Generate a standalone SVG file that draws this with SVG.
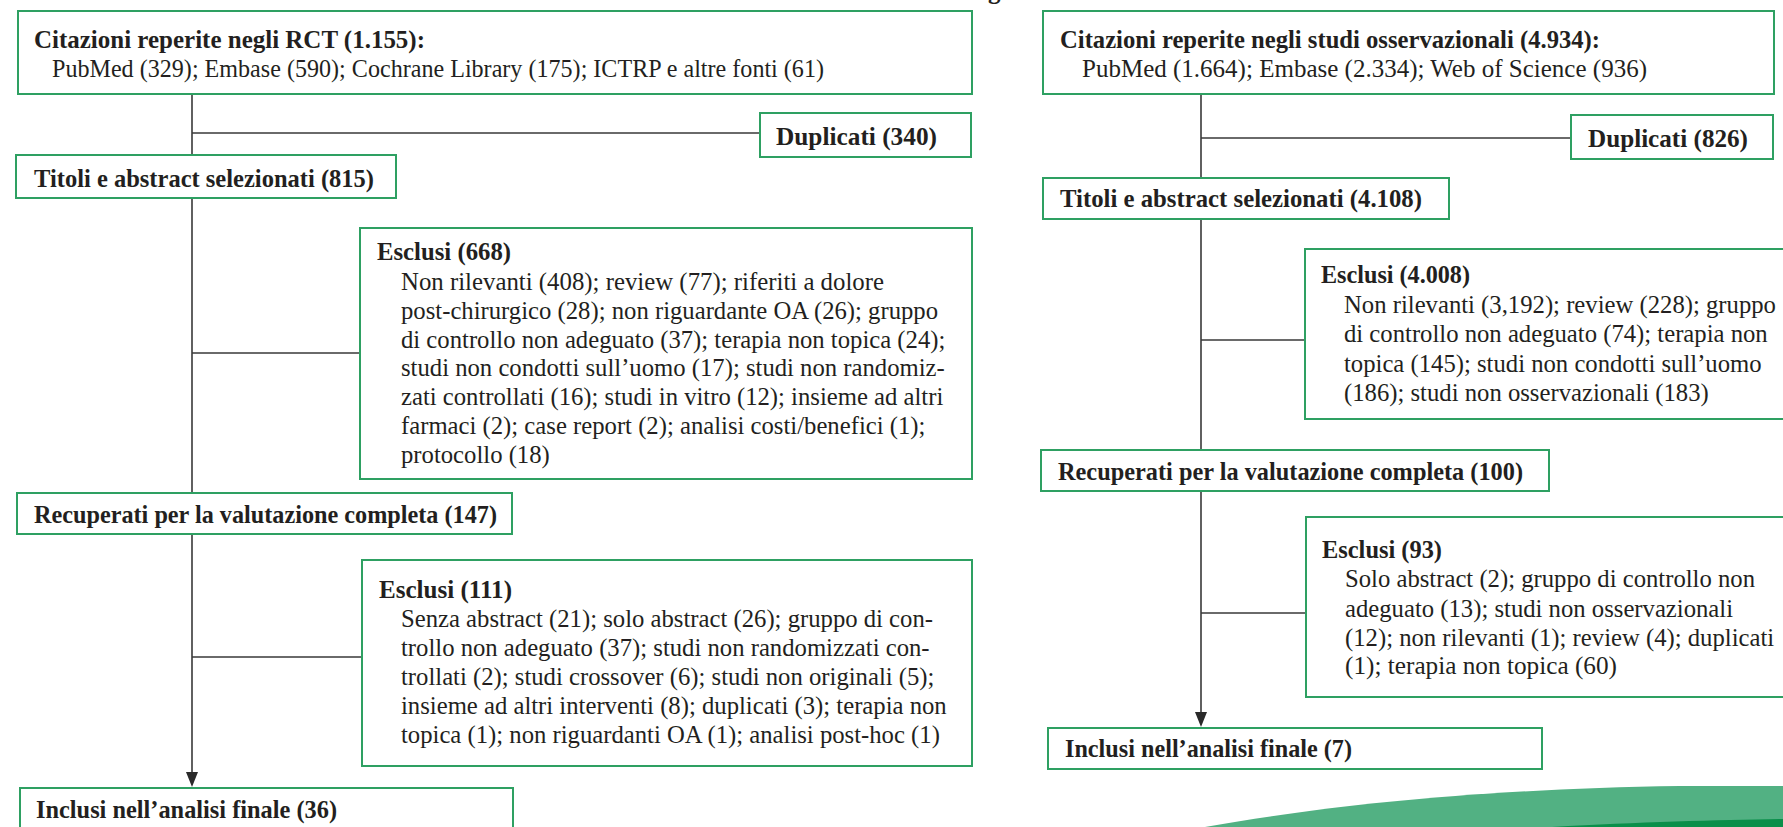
<svg xmlns="http://www.w3.org/2000/svg" width="1783" height="827" viewBox="0 0 1783 827">
<style>
.box{fill:#fff;stroke:#2ea062;stroke-width:2}
.t{font-family:"Liberation Serif","Times New Roman",serif;font-size:24.7px;fill:#231f20}
.b{font-family:"Liberation Serif","Times New Roman",serif;font-size:25px;font-weight:bold;fill:#231f20}
.ln{fill:none;stroke:#3a3a3a;stroke-width:1.6}
.ah{fill:#2a2a2a}
</style>
<rect width="1783" height="827" fill="#fff"/>
<text class="b" x="988" y="-1">g</text>

<g id="connectors">
<path class="ln" d="M192,94 V155 M192,133 H760 M192,198 V493 M192,353 H360 M192,534 V775 M192,657 H362"/>
<path class="ah" d="M186,772 L198,772 L192,787 Z"/>
<path class="ln" d="M1201,94 V178 M1201,138 H1571 M1201,219 V450 M1201,340 H1305 M1201,491 V715 M1201,613 H1306"/>
<path class="ah" d="M1195,712 L1207,712 L1201,727 Z"/>
</g>

<g id="rct-citazioni">
<rect class="box" x="18" y="11" width="954" height="83"/>
<text class="b" x="34" y="48" textLength="391" lengthAdjust="spacingAndGlyphs">Citazioni reperite negli RCT (1.155):</text>
<text class="t" x="52" y="77" textLength="772" lengthAdjust="spacingAndGlyphs">PubMed (329); Embase (590); Cochrane Library (175); ICTRP e altre fonti (61)</text>
</g>
<g id="rct-duplicati">
<rect class="box" x="760" y="113" width="211" height="44"/>
<text class="b" x="776" y="145" textLength="161" lengthAdjust="spacingAndGlyphs">Duplicati (340)</text>
</g>
<g id="rct-titoli">
<rect class="box" x="16" y="155" width="380" height="43"/>
<text class="b" x="34" y="187" textLength="340" lengthAdjust="spacingAndGlyphs">Titoli e abstract selezionati (815)</text>
</g>
<g id="rct-esclusi1">
<rect class="box" x="360" y="228" width="612" height="251"/>
<text class="b" x="377" y="260" textLength="134" lengthAdjust="spacingAndGlyphs">Esclusi (668)</text>
<text class="t" x="401" y="290" textLength="483" lengthAdjust="spacingAndGlyphs">Non rilevanti (408); review (77); riferiti a dolore</text>
<text class="t" x="401" y="318.8">post-chirurgico (28); non riguardante OA (26); gruppo</text>
<text class="t" x="401" y="347.6">di controllo non adeguato (37); terapia non topica (24);</text>
<text class="t" x="401" y="376.4">studi non condotti sull’uomo (17); studi non randomiz-</text>
<text class="t" x="401" y="405.2">zati controllati (16); studi in vitro (12); insieme ad altri</text>
<text class="t" x="401" y="434">farmaci (2); case report (2); analisi costi/benefici (1);</text>
<text class="t" x="401" y="462.8">protocollo (18)</text>
</g>
<g id="rct-recuperati">
<rect class="box" x="17" y="493" width="495" height="41"/>
<text class="b" x="34" y="523" textLength="463" lengthAdjust="spacingAndGlyphs">Recuperati per la valutazione completa (147)</text>
</g>
<g id="rct-esclusi2">
<rect class="box" x="362" y="560" width="610" height="206"/>
<text class="b" x="379" y="598" textLength="133" lengthAdjust="spacingAndGlyphs">Esclusi (111)</text>
<text class="t" x="401" y="627">Senza abstract (21); solo abstract (26); gruppo di con-</text>
<text class="t" x="401" y="656">trollo non adeguato (37); studi non randomizzati con-</text>
<text class="t" x="401" y="685">trollati (2); studi crossover (6); studi non originali (5);</text>
<text class="t" x="401" y="714">insieme ad altri interventi (8); duplicati (3); terapia non</text>
<text class="t" x="401" y="743">topica (1); non riguardanti OA (1); analisi post-hoc (1)</text>
</g>
<g id="rct-inclusi">
<rect class="box" x="20" y="788" width="493" height="60"/>
<text class="b" x="36" y="818" textLength="301" lengthAdjust="spacingAndGlyphs">Inclusi nell’analisi finale (36)</text>
</g>

<g id="obs-citazioni">
<rect class="box" x="1043" y="11" width="731" height="83"/>
<text class="b" x="1060" y="48" textLength="540" lengthAdjust="spacingAndGlyphs">Citazioni reperite negli studi osservazionali (4.934):</text>
<text class="t" x="1082" y="77" textLength="565" lengthAdjust="spacingAndGlyphs">PubMed (1.664); Embase (2.334); Web of Science (936)</text>
</g>
<g id="obs-duplicati">
<rect class="box" x="1571" y="115" width="202" height="44"/>
<text class="b" x="1588" y="147" textLength="160" lengthAdjust="spacingAndGlyphs">Duplicati (826)</text>
</g>
<g id="obs-titoli">
<rect class="box" x="1043" y="178" width="406" height="41"/>
<text class="b" x="1060" y="207" textLength="362" lengthAdjust="spacingAndGlyphs">Titoli e abstract selezionati (4.108)</text>
</g>
<g id="obs-esclusi1">
<rect class="box" x="1305" y="249" width="500" height="170"/>
<text class="b" x="1321" y="283" textLength="149" lengthAdjust="spacingAndGlyphs">Esclusi (4.008)</text>
<text class="t" x="1344" y="312.5">Non rilevanti (3,192); review (228); gruppo</text>
<text class="t" x="1344" y="342">di controllo non adeguato (74); terapia non</text>
<text class="t" x="1344" y="371.5">topica (145); studi non condotti sull’uomo</text>
<text class="t" x="1344" y="401">(186); studi non osservazionali (183)</text>
</g>
<g id="obs-recuperati">
<rect class="box" x="1041" y="450" width="508" height="41"/>
<text class="b" x="1058" y="480" textLength="465" lengthAdjust="spacingAndGlyphs">Recuperati per la valutazione completa (100)</text>
</g>
<g id="obs-esclusi2">
<rect class="box" x="1306" y="517" width="500" height="180"/>
<text class="b" x="1322" y="558" textLength="120" lengthAdjust="spacingAndGlyphs">Esclusi (93)</text>
<text class="t" x="1345" y="587">Solo abstract (2); gruppo di controllo non</text>
<text class="t" x="1345" y="616.5">adeguato (13); studi non osservazionali</text>
<text class="t" x="1345" y="645.5">(12); non rilevanti (1); review (4); duplicati</text>
<text class="t" x="1345" y="674" textLength="272" lengthAdjust="spacingAndGlyphs">(1); terapia non topica (60)</text>
</g>
<g id="obs-inclusi">
<rect class="box" x="1048" y="728" width="494" height="41"/>
<text class="b" x="1065" y="757" textLength="287" lengthAdjust="spacingAndGlyphs">Inclusi nell’analisi finale (7)</text>
</g>

<g id="swoosh">
<path d="M1205,827 C1330,805 1480,789 1680,786 L1783,786 L1783,827 Z" fill="#52b183"/>
<path d="M1552,827 C1640,822 1720,820 1783,819 L1783,827 Z" fill="#0a8f4a"/>
</g>
</svg>
